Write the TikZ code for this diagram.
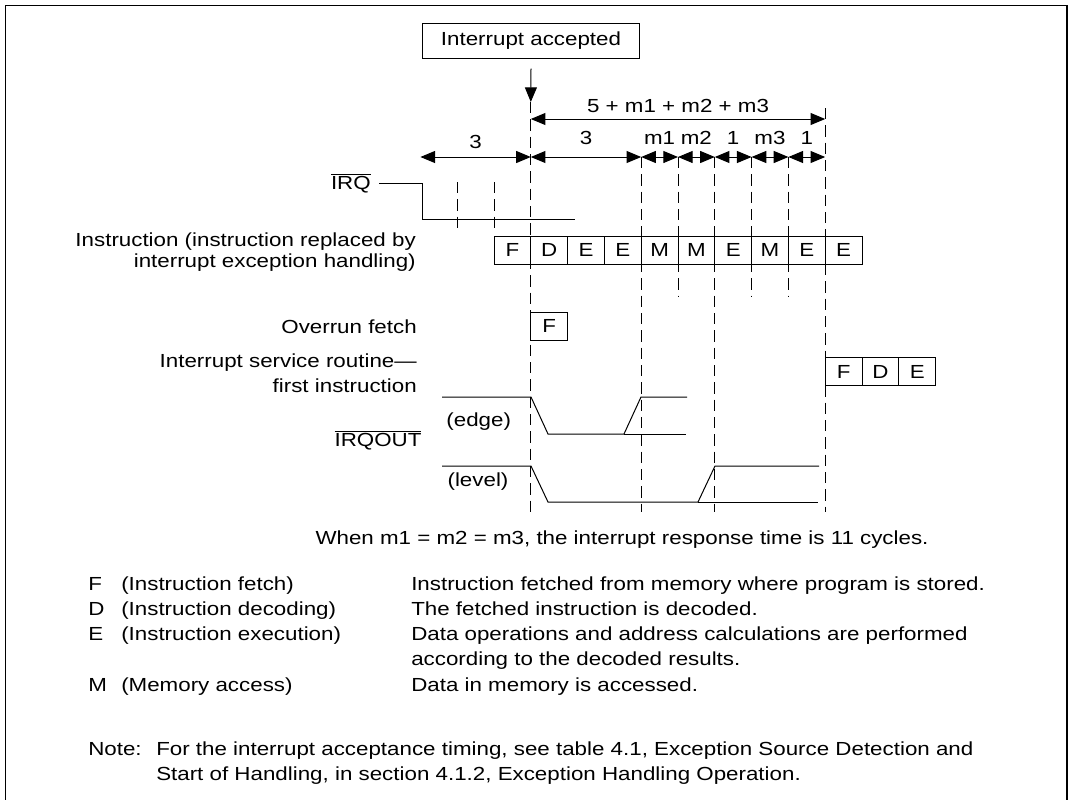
\documentclass[tikz,border=0pt]{standalone}
\usepackage{fontspec}
\setmainfont{Liberation Sans}[FakeStretch=1.18]
\usetikzlibrary{arrows.meta, positioning}

\begin{document}
\begin{tikzpicture}[
  x=0.75pt, y=-0.75pt,
  every node/.style={font=\fontsize{14.2pt}{17pt}\selectfont, inner sep=0pt},
  cell/.style   ={rectangle, draw, line width=0.75pt,
                  minimum width=27.6pt, minimum height=21pt},
  dimarr/.style ={{Triangle[length=11pt,width=9pt]}-{Triangle[length=11pt,width=9pt]},
                  line width=0.75pt},
  down/.style   ={-{Triangle[length=11pt,width=9pt]}, line width=0.75pt},
  guide/.style  ={dash pattern=on 8.5pt off 4.5pt, line width=0.75pt},
  wave/.style   ={line width=0.75pt},
  lbl/.style    ={anchor=east, align=right},
  row/.style    ={anchor=base west},
]
\useasboundingbox (0,0) rectangle (1075,800);
\draw[line width=1.3pt] (5.5,800) |- (1067,5.5) -- (1067,800);

% Interrupt accepted
\node[draw, line width=0.75pt, minimum width=162.75pt, minimum height=26.25pt]
  (acc) at (531,40.7) {Interrupt accepted};
\coordinate (accpt) at (530.8,102);
\draw[down] ([yshift=-7.5pt]acc.south) -- (accpt);

% Cycle boundaries
\foreach \k in {0,...,13}
  \coordinate (d\k) at ({420.4+36.8*\k},157);
\coordinate (t3)  at (530.8,119);
\coordinate (t11) at (825.2,119);

\draw[dimarr] (t3) -- node[above=4pt] {5 + m1 + m2 + m3} (t11);
\draw[dimarr] (d0)  -- node[above=5.5pt] {3}  (d3);
\draw[dimarr] (d3)  -- node[above=9pt]   {3}  (d6);
\draw[dimarr] (d6)  -- node[above=9pt]   {m1} (d7);
\draw[dimarr] (d7)  -- node[above=9pt]   {m2} (d8);
\draw[dimarr] (d8)  -- node[above=9pt]   {1}  (d9);
\draw[dimarr] (d9)  -- node[above=9pt]   {m3} (d10);
\draw[dimarr] (d10) -- node[above=9pt]   {1}  (d11);

% Dashed guides
\draw[guide] (accpt) -- (530.8,512);
\foreach \k in {6,8}
  \draw[guide] (d\k) -- ++(0,355);
\foreach \k in {7,9,10}
  \draw[guide] (d\k) -- ++(0,140);
\draw[guide] (825.2,108) -- (825.2,512);

% IRQ
\node[lbl] (irq) at (371,183) {$\overline{\mbox{IRQ}}$};
\draw[wave] ([xshift=6pt]irq.east) -| (422,219) -- (575,219);
\foreach \k in {1,2}
  \draw[guide] ({420.4+36.8*\k},182) -- ++(0,50);

% Instruction row
\node[lbl, font=\fontsize{14.2pt}{15.75pt}\selectfont] (instr) at (416,252.5)
  {Instruction (instruction replaced by\\interrupt exception handling)};
\foreach \op [count=\k] in {F,D,E,E,M,M,E,M,E,E}
  \node[cell] (i\k) at ({494+36.8*(\k-0.5)},250) {\op};

% Overrun fetch and first ISR instruction
\node[lbl] (ovrl) at (417,327) {Overrun fetch};
\node[cell] (ovr) at (549.2,326) {F};
\node[lbl, font=\fontsize{14.2pt}{18.75pt}\selectfont] (isrl) at (417,373.5)
  {Interrupt service routine—\\first instruction};
\foreach \op [count=\k] in {F,D,E}
  \node[cell] (isr\k) at ({825.2+36.8*(\k-0.5)},371.5) {\op};

% IRQOUT
\node (irqout) at (378,440) {$\overline{\mbox{IRQOUT}}$};
\node (edge)  at (478.7,421.7) {(edge)};
\node (level) at (478,481.7) {(level)};
\draw[wave] (442,397) -- (531,397) -- (548,434) -- (624,434) -- (641,397) -- (687,397);
\draw[wave] (624,434) -- (686,434);
\draw[wave] (442,466) -- (531,466) -- (548,502) -- (698,502) -- (715,466) -- (819,466);
\draw[wave] (698,502) -- (818,502);

\node (resp) at (622,540)
  {When m1 = m2 = m3, the interrupt response time is 11 cycles.};

% Legend
\foreach \y/\c/\n/\d in {590/F/Instruction fetch/Instruction fetched from memory where program is stored.,
                         615/D/Instruction decoding/The fetched instruction is decoded.,
                         640/E/Instruction execution/Data operations and address calculations are performed,
                         691.5/M/Memory access/Data in memory is accessed.}{
  \node[row] (key\c) at (88,\y)  {\c};
  \node[row] (nm\c)  at (121,\y) {(\n)};
  \node[row] (ds\c)  at (411,\y) {\d};
}
\node[row] (dsE2) at (411,665) {according to the decoded results.};

% Note
\node[row] (notehd) at (88,755) {Note:};
\node[row] (notetx1) at (156,755)
  {For the interrupt acceptance timing, see table 4.1, Exception Source Detection and};
\node[row] (notetx2) at (156,780)
  {Start of Handling, in section 4.1.2, Exception Handling Operation.};

\end{tikzpicture}
\end{document}
